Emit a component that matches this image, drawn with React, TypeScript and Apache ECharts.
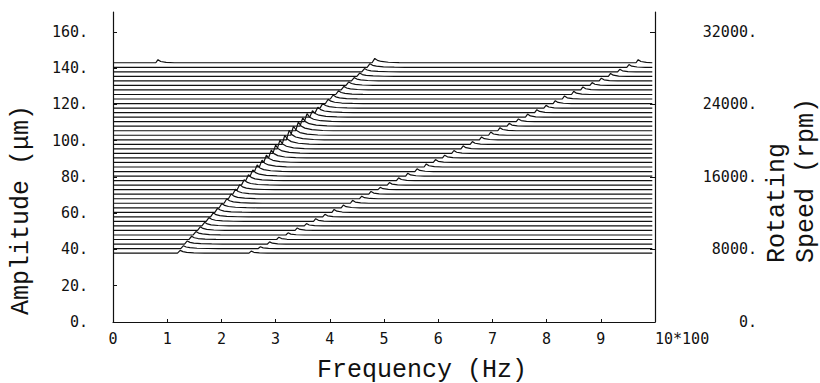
import React, { useEffect, useRef } from 'react';
import * as echarts from 'echarts';

// Baseline rotating speed of each spectrum trace (rpm)
const RPM = [
  7600, 8100, 8600, 9100, 9600, 10100, 10600, 11100, 11600, 12100,
  12600, 13100, 13600, 14100, 14600, 15100, 15600, 16100, 16600, 17100,
  17600, 18100, 18600, 19100, 19600, 20100, 20600, 21100, 21600, 22100,
  22600, 23100, 23600, 24100, 24600, 25100, 25600, 26100, 26600, 27100,
  27600, 28100, 28600,
];
// 1X peak frequency (x100 Hz) for each trace
const PEAK1_FREQ = [
  1.24, 1.3, 1.37, 1.45, 1.53, 1.61, 1.69, 1.77, 1.85, 1.93,
  2.01, 2.1, 2.18, 2.26, 2.34, 2.42, 2.5, 2.58, 2.66, 2.75,
  2.83, 2.92, 3.0, 3.08, 3.17, 3.25, 3.33, 3.42, 3.5, 3.58,
  3.68, 3.78, 3.87, 3.97, 4.06, 4.16, 4.26, 4.35, 4.45, 4.55,
  4.64, 4.74, 4.83,
];
// 1X peak amplitude (um)
const PEAK1_AMP = [
  1.5, 1.6, 1.7, 1.8, 1.9, 2.0, 2.0, 2.1, 2.2, 2.3,
  2.4, 2.5, 2.6, 2.7, 2.8, 3.0, 3.2, 3.4, 3.6, 3.8,
  4.0, 4.3, 4.6, 4.8, 5.0, 5.2, 5.0, 4.8, 4.6, 4.4,
  3.6, 3.0, 2.6, 2.4, 2.2, 2.0, 2.0, 1.9, 1.8, 1.8,
  1.8, 2.0, 2.4,
];
// 2X peak frequency (x100 Hz)
const PEAK2_FREQ = [
  2.55, 2.72, 2.89, 3.06, 3.23, 3.4, 3.57, 3.74, 3.91, 4.08,
  4.25, 4.42, 4.59, 4.76, 4.93, 5.1, 5.27, 5.44, 5.61, 5.78,
  5.95, 6.12, 6.29, 6.46, 6.63, 6.8, 6.97, 7.14, 7.31, 7.48,
  7.65, 7.82, 7.99, 8.16, 8.33, 8.5, 8.67, 8.84, 9.01, 9.18,
  9.35, 9.52, 9.69,
];
// 2X peak amplitude (um)
const PEAK2_AMP = [
  1.1, 1.0, 1.2, 1.3, 1.2, 1.4, 1.3, 1.5, 1.4, 1.6,
  1.5, 1.6, 1.4, 1.5, 1.3, 1.4, 1.5, 1.6, 1.5, 1.7,
  1.6, 1.5, 1.6, 1.7, 1.5, 1.6, 1.8, 1.7, 1.6, 1.5,
  1.7, 1.6, 1.5, 1.6, 1.7, 1.8, 1.7, 1.6, 1.5, 1.6,
  1.4, 1.5, 1.7,
];
// extra low-frequency peak on the top trace
const EXTRA_TRACE = [42];
const EXTRA_FREQ = [0.83];
const EXTRA_AMP = [1.7];

const X_TICKS_MAX = 10;
const F_END = 9.95;

const SHAPE1 = [[-0.05, 0], [0, 1], [0.05, 0.55], [0.12, 0.3], [0.25, 0.12], [0.45, 0.03], [0.65, 0]];
const SHAPE2 = [[-0.04, 0], [0, 1], [0.05, 0.4], [0.15, 0.1], [0.3, 0]];

function buildTrace(i: number): number[][] {
  const base = RPM[i] / 200;
  const peaks: { f: number; a: number; s: number[][] }[] = [
    { f: PEAK1_FREQ[i], a: PEAK1_AMP[i], s: SHAPE1 },
    { f: PEAK2_FREQ[i], a: PEAK2_AMP[i], s: SHAPE2 },
  ];
  EXTRA_TRACE.forEach((t, k) => {
    if (t === i) peaks.push({ f: EXTRA_FREQ[k], a: EXTRA_AMP[k], s: SHAPE2 });
  });
  peaks.sort((p, q) => p.f - q.f);
  const pts: number[][] = [[0, base]];
  peaks.forEach((p) => {
    p.s.forEach(([df, k]) => {
      const x = p.f + df;
      if (x > 0 && x < F_END) pts.push([x, base + p.a * k]);
    });
  });
  pts.push([F_END, base]);
  return pts;
}

export default function App() {
  const ref = useRef<HTMLDivElement>(null);
  useEffect(() => {
    const chart = echarts.init(ref.current!, null, { renderer: 'svg' });
    const series: any[] = [];
    for (let i = RPM.length - 1; i >= 0; i--) {
      series.push({
        type: 'line',
        data: buildTrace(i),
        symbol: 'none',
        silent: true,
        lineStyle: { color: '#111', width: 1.2 },
        areaStyle: { color: '#fff', opacity: 1, origin: 'start' },
      });
    }
    const tickFont = { fontFamily: 'DejaVu Sans Mono', fontSize: 15, color: '#111' };
    const titleStyle = { fontFamily: 'Liberation Mono', fontSize: 25, fill: '#111' };
    chart.setOption({
      animation: false,
      backgroundColor: '#fff',
      grid: { left: 113, right: 165, top: 12, bottom: 61 },
      xAxis: {
        type: 'value',
        min: 0,
        max: X_TICKS_MAX,
        interval: 1,
        z: 5,
        axisLine: { show: true, lineStyle: { color: '#111', width: 1.2 } },
        axisTick: { show: true, inside: true, length: 3, lineStyle: { color: '#111' } },
        splitLine: { show: false },
        axisLabel: {
          ...tickFont,
          margin: 9,
          alignMaxLabel: 'left',
          formatter: (v: number) => (v === X_TICKS_MAX ? '10*100' : String(v)),
        },
      },
      yAxis: [
        {
          type: 'value',
          min: 0,
          max: 171,
          interval: 20,
          position: 'left',
          z: 5,
          axisLine: { show: true, lineStyle: { color: '#111', width: 1.2 } },
          axisTick: { show: true, inside: true, length: 4, lineStyle: { color: '#111' } },
          splitLine: { show: false },
          axisLabel: {
            ...tickFont,
            margin: 25,
            showMaxLabel: false,
            formatter: (v: number) => (v % 20 === 0 ? v + '.' : ''),
          },
        },
        {
          type: 'value',
          min: 0,
          max: 34200,
          interval: 8000,
          position: 'right',
          z: 5,
          axisLine: { show: true, lineStyle: { color: '#111', width: 1.2 } },
          axisTick: { show: true, inside: true, length: 5, lineStyle: { color: '#111' } },
          splitLine: { show: false },
          axisLabel: {
            ...tickFont,
            margin: 102,
            align: 'right',
            showMaxLabel: false,
            formatter: (v: number) => (v % 8000 === 0 ? v + '.' : ''),
          },
        },
      ],
      series,
      graphic: [
        {
          type: 'text',
          x: 21,
          y: 210,
          rotation: Math.PI / 2,
          style: { ...titleStyle, text: 'Amplitude (μm)', align: 'center', verticalAlign: 'middle' },
        },
        {
          type: 'text',
          x: 422,
          y: 370,
          style: { ...titleStyle, text: 'Frequency (Hz)', align: 'center', verticalAlign: 'middle' },
        },
        {
          type: 'text',
          x: 777,
          y: 263,
          rotation: Math.PI / 2,
          style: { ...titleStyle, text: 'Rotating', align: 'left', verticalAlign: 'middle' },
        },
        {
          type: 'text',
          x: 806,
          y: 263,
          rotation: Math.PI / 2,
          style: { ...titleStyle, text: 'Speed (rpm)', align: 'left', verticalAlign: 'middle' },
        },
      ],
    });
    return () => chart.dispose();
  }, []);
  return <div ref={ref} style={{ position: 'fixed', left: 0, top: 0, width: 820, height: 383 }} />;
}
